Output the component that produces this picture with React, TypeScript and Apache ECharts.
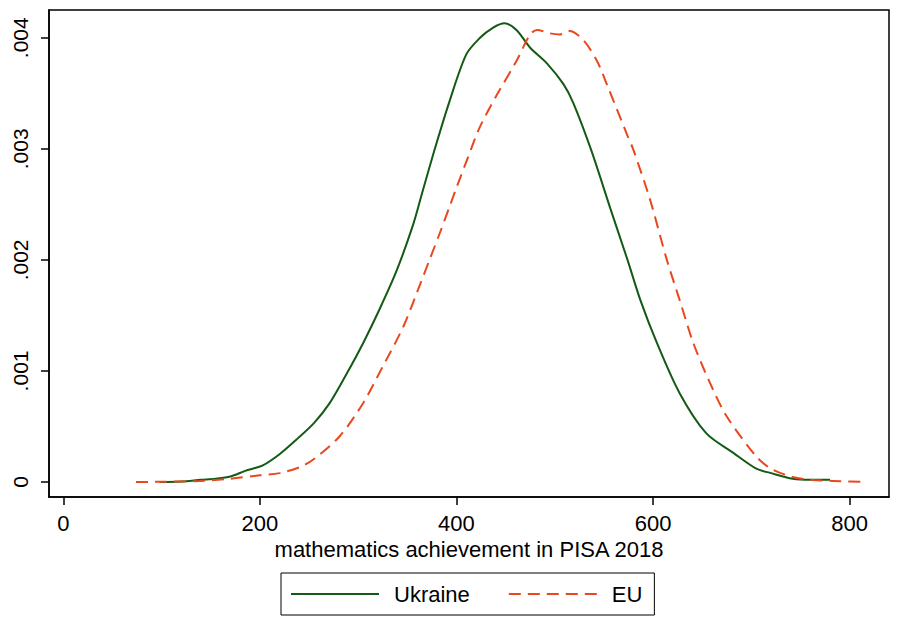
import React, { useEffect, useRef } from "react";
import * as echarts from "echarts";

const ukraineScores = [98, 120, 140, 155, 170, 185, 203, 220, 237, 255, 271, 288, 305, 322, 339, 356, 365, 378, 393, 410, 424, 437, 449, 461, 475, 492, 509, 519, 537, 557, 574, 587, 604, 627, 654, 682, 705, 720, 742, 760, 780];
const ukraineDensity = [0, 0.000005, 0.00002, 0.00003, 0.00005, 0.0001, 0.00015, 0.00025, 0.00038, 0.00053, 0.00071, 0.00097, 0.00125, 0.00156, 0.0019, 0.00232, 0.0026, 0.003, 0.00343, 0.00385, 0.004, 0.00409, 0.00413, 0.00407, 0.00391, 0.00377, 0.00358, 0.00341, 0.00299, 0.00245, 0.002, 0.00164, 0.00125, 0.0008, 0.00044, 0.00026, 0.00012, 0.00008, 0.00003, 0.00002, 0.00002];

const euScores = [74, 100, 139, 170, 200, 220, 241, 254, 281, 305, 325, 346, 363, 373, 383, 393, 400, 412, 424, 442, 461, 475, 482, 495, 505, 515, 529, 543, 553, 573, 580, 597, 614, 627, 641, 658, 675, 705, 720, 742, 760, 783, 818];
const euDensity = [0, 0.000002, 0.00001, 0.00003, 0.00006, 0.00008, 0.000135, 0.0002, 0.00041, 0.00071, 0.00104, 0.0014, 0.00178, 0.00201, 0.00224, 0.00248, 0.00265, 0.00293, 0.0032, 0.0035, 0.00379, 0.00403, 0.00407, 0.00404, 0.00403, 0.00406, 0.00398, 0.00379, 0.00358, 0.00314, 0.00299, 0.00254, 0.002, 0.00164, 0.00125, 0.00089, 0.00059, 0.00023, 0.00012, 0.000045, 0.00002, 0.00001, 0];

const xTicks = [0, 200, 400, 600, 800];
const yTicks = [0, 0.001, 0.002, 0.003, 0.004];
const seriesNames = ["Ukraine", "EU"];
const xTitle = "mathematics achievement in PISA 2018";

const FONT = "'Liberation Sans', Arial, sans-serif";

export default function App() {
  const ref = useRef<HTMLDivElement>(null);
  useEffect(() => {
    if (!ref.current) return;
    const chart = echarts.init(ref.current, undefined, { renderer: "svg" });
    const pair = (xs: number[], ys: number[]) => xs.map((x, i) => [x, ys[i]]);
    chart.setOption({
      animation: false,
      backgroundColor: "#fff",
      grid: {
        left: 49, right: 11, top: 10, bottom: 120,
        show: true, borderColor: "#000", borderWidth: 1.5, backgroundColor: "#fff",
      },
      xAxis: {
        type: "value", min: -14.5, max: 840,
        name: xTitle, nameLocation: "middle", nameGap: 40,
        nameTextStyle: { fontFamily: FONT, fontSize: 22, color: "#000" },
        axisLine: { show: true, onZero: false, lineStyle: { color: "#000", width: 1.5 } },
        axisTick: { show: true, length: 8, lineStyle: { color: "#000", width: 1.5 }, customValues: xTicks },
        axisLabel: { fontFamily: FONT, fontSize: 22, color: "#000", margin: 15, customValues: xTicks },
        splitLine: { show: false },
      },
      yAxis: {
        type: "value", min: -0.000135, max: 0.00425,
        axisLine: { show: true, onZero: false, lineStyle: { color: "#000", width: 1.5 } },
        axisTick: { show: true, length: 8, lineStyle: { color: "#000", width: 1.5 }, customValues: yTicks },
        axisLabel: {
          fontFamily: FONT, fontSize: 21, color: "#000", margin: 18, rotate: 90,
          customValues: yTicks,
          formatter: (v: number) => (v === 0 ? "0" : String(+v.toFixed(3)).replace(/^0\./, ".")),
        },
        splitLine: { show: false },
      },
      legend: {
        data: seriesNames,
        bottom: 2, left: 281,
        orient: "horizontal",
        borderColor: "#000", borderWidth: 1,
        padding: [10, 12, 10, 9],
        itemWidth: 88, itemHeight: 16, itemGap: 38,
        itemStyle: { opacity: 0 },
        textStyle: { fontFamily: FONT, fontSize: 22, color: "#000", padding: [0, 0, 0, 10] },
      },
      series: [
        {
          name: seriesNames[0], type: "line", symbol: "none", smooth: 0.3,
          data: pair(ukraineScores, ukraineDensity),
          lineStyle: { color: "#145a14", width: 2, type: "solid" },
          itemStyle: { color: "#145a14" },
        },
        {
          name: seriesNames[1], type: "line", symbol: "none", smooth: 0.3,
          data: pair(euScores, euDensity),
          lineStyle: { color: "#e8481e", width: 2, type: [12, 7] },
          itemStyle: { color: "#e8481e" },
        },
      ],
    });
    return () => chart.dispose();
  }, []);
  return <div ref={ref} style={{ position: "fixed", left: 0, top: 0, width: 900, height: 617 }} />;
}
